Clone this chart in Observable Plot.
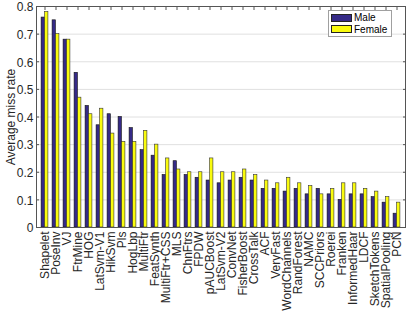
<!DOCTYPE html>
<html><head><meta charset="utf-8">
<script src="https://cdn.jsdelivr.net/npm/d3@7"></script>
<script src="https://cdn.jsdelivr.net/npm/@observablehq/plot@0.6"></script>
<style>
body{margin:0;background:#fff;font-family:"Liberation Sans",Arial,sans-serif}
#wrap{position:relative;width:407px;height:311px}
#legend{position:absolute;left:328px;top:10px;width:62px;border:1px solid #a0a0a0;background:#fff;padding:1px 0;font-size:10px;color:#000}
#legend .it{display:flex;align-items:center;height:11.5px}
#legend .sw{width:21px;height:8px;border:1px solid #222;margin:0 2px 0 2px;box-sizing:border-box}
</style>
</head><body><div id="wrap"></div>
<script>
const methods = ["Shapelet","PoseInv","VJ","FtrMine","HOG","LatSvm-V1","HikSvm","Pls","HogLbp","MultiFtr","FeatSynth","MultiFtr+CSS","MLS","ChnFtrs","FPDW","pAUCBoost","LatSvm-V2","ConvNet","FisherBoost","CrossTalk","ACF","VeryFast","WordChannels","RandForest","NAMC","SCCPriors","Roerei","Franken","InformedHaar","LDCF","SketchTokens","SpatialPooling","PCN"];
const male   = [0.76,0.75,0.68,0.56,0.44,0.37,0.41,0.40,0.36,0.28,0.26,0.19,0.24,0.19,0.18,0.17,0.16,0.17,0.18,0.17,0.14,0.14,0.13,0.14,0.12,0.14,0.12,0.10,0.12,0.12,0.11,0.09,0.05];
const female = [0.78,0.70,0.68,0.47,0.41,0.43,0.34,0.31,0.31,0.35,0.30,0.25,0.21,0.20,0.20,0.25,0.20,0.20,0.21,0.19,0.17,0.16,0.18,0.16,0.15,0.12,0.14,0.16,0.16,0.14,0.13,0.11,0.09];
const seriesNames = ["Male","Female"];
const seriesColors = ["#352a87","#f9fb0e"];
const yTicks = [0,0.1,0.2,0.3,0.4,0.5,0.6,0.7,0.8];
const yTickLabels = ["0","0.1","0.2","0.3","0.4","0.5","0.6","0.7","0.8"];

const W = 407, H = 311, mL = 36, mR = 2, mT = 6, mB = 84;
const bw = (W - mL - mR) / methods.length;
const barW = 3.5;
const rowsM = methods.map((m,i)=>({method:m, value:male[i]}));
const rowsF = methods.map((m,i)=>({method:m, value:female[i]}));

const chart = Plot.plot({
  width: W, height: H,
  marginLeft: mL, marginRight: mR, marginTop: mT, marginBottom: mB,
  style: {fontFamily:'"Liberation Sans",Arial,sans-serif', fontSize:"12px", color:"#262626", background:"#fff"},
  x: {domain: methods, padding: 0},
  y: {domain: [0,0.8]},
  marks: [
    Plot.gridY(yTicks, {stroke:"#e0e0e0", strokeOpacity:1}),
    Plot.barY(rowsM, {x:"method", y:"value", fill:seriesColors[0], stroke:"#111", strokeWidth:0.6, insetLeft: bw/2 - barW, insetRight: bw/2}),
    Plot.barY(rowsF, {x:"method", y:"value", fill:seriesColors[1], stroke:"#333", strokeWidth:0.6, insetLeft: bw/2, insetRight: bw/2 - barW}),
    Plot.axisX({anchor:"bottom", tickRotate:-90, tickSize:0, tickPadding:4, fontSize:12, fill:"#262626", label:null}),
    Plot.axisX({anchor:"top", tickSize:-3, tickFormat:()=>"", label:null, stroke:"#555"}),
    Plot.axisY(yTicks, {anchor:"left", tickSize:0, tickPadding:3, dy:1, tickFormat:(d)=>yTickLabels[yTicks.indexOf(d)], fontSize:12, fill:"#262626", label:"Average miss rate", labelAnchor:"center", labelArrow:"none", labelOffset:30}),
    Plot.axisY(yTicks, {anchor:"left", tickSize:-3, tickFormat:()=>"", label:null, stroke:"#555"}),
    Plot.axisY(yTicks, {anchor:"right", tickSize:-3, tickFormat:()=>"", label:null, stroke:"#555"}),
    Plot.frame({stroke:"#555", strokeWidth:1})
  ]
});
const wrap = document.getElementById("wrap");
wrap.appendChild(chart);

const lg = document.createElement("div");
lg.id = "legend";
seriesNames.forEach((n,i)=>{
  const it = document.createElement("div"); it.className="it";
  const sw = document.createElement("div"); sw.className="sw"; sw.style.background = seriesColors[i];
  const t = document.createElement("span"); t.textContent = n;
  it.appendChild(sw); it.appendChild(t); lg.appendChild(it);
});
wrap.appendChild(lg);
</script>
</body></html>
